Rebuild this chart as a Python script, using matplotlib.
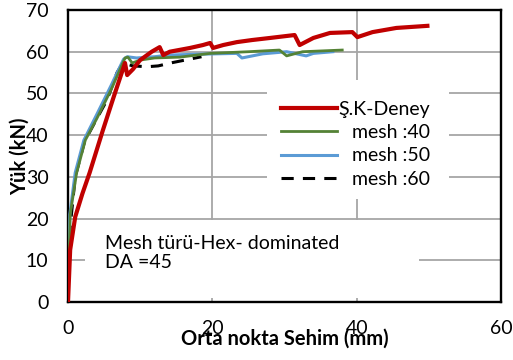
import matplotlib
matplotlib.use("Agg")
import matplotlib.pyplot as plt
from matplotlib.patches import Rectangle

plt.rcParams["font.family"] = ["Lato", "DejaVu Sans"]

# Ş.K-Deney (experiment)
red_x = [0, 0.3, 1.0, 2.0, 3.0, 4.8, 6.3, 7.9, 8.2, 9.0, 10.0, 11.6, 12.7, 13.2, 14.1,
         16.9, 18.7, 19.7, 20.1, 21.5, 23.4, 25.5, 28.0, 31.4, 32.1, 34.0, 36.3, 39.4,
         40.1, 42.2, 45.5, 49.8]
red_y = [0, 12.5, 20.4, 26.0, 31.0, 41.0, 49.0, 57.3, 54.4, 55.8, 58.0, 60.0, 61.1, 59.2, 60.0,
         60.9, 61.6, 62.1, 60.9, 61.6, 62.3, 62.8, 63.3, 64.0, 61.6, 63.3, 64.5, 64.7,
         63.5, 64.7, 65.7, 66.2]

# mesh :40
green_x = [0, 0.3, 1.2, 2.4, 4.0, 6.0, 7.9, 8.3, 8.9, 10.0, 12.0, 15.5, 19.7, 25.0,
           29.3, 30.3, 32.5, 38.0]
green_y = [0, 21.0, 31.0, 38.8, 44.0, 51.0, 58.5, 58.7, 57.3, 58.0, 58.5, 58.7, 59.6, 60.0,
           60.4, 59.0, 60.0, 60.4]

# mesh :50
blue_x = [0, 0.25, 1.0, 2.2, 4.0, 6.0, 7.7, 8.2, 9.5, 12.0, 14.0, 18.0, 23.4, 24.1,
          27.0, 30.3, 33.0, 34.0, 36.7]
blue_y = [0, 21.0, 31.0, 38.8, 45.0, 52.0, 58.2, 58.8, 58.5, 58.8, 59.2, 59.4, 59.6, 58.5,
          59.5, 60.0, 59.0, 59.6, 60.0]

# mesh :60
black_x = [0, 0.3, 1.0, 2.3, 4.0, 5.4, 6.8, 7.6, 9.0, 11.0, 12.5, 14.5, 17.1, 18.5]
black_y = [0, 18.0, 30.0, 38.5, 44.0, 48.4, 55.0, 57.3, 56.6, 56.4, 56.6, 57.4, 58.3, 58.8]

fig = plt.figure(figsize=(5.13, 3.6), dpi=100)
ax = fig.add_axes([68 / 513, 58 / 360, 433 / 513, 292 / 360])

ax.plot(red_x, red_y, color="#C00000", lw=3.0, label="Ş.K-Deney", zorder=6)
ax.plot(green_x, green_y, color="#548235", lw=2.0, label="mesh :40", zorder=5)
ax.plot(blue_x, blue_y, color="#5B9BD5", lw=2.2, label="mesh :50", zorder=4)
ax.plot(black_x, black_y, color="black", lw=2.2, dashes=(4, 3), label="mesh :60", zorder=3)

ax.set_xlim(0, 60)
ax.set_ylim(0, 70)
ax.set_xticks([0, 20, 40, 60])
ax.set_yticks(range(0, 71, 10))
ax.set_axisbelow(True)
ax.grid(True, color="#A6A6A6", lw=1.3)
ax.tick_params(length=0, labelsize=14)
ax.tick_params(axis="y", pad=14)
ax.tick_params(axis="x", pad=13)
for sp in ax.spines.values():
    sp.set_linewidth(1.7)
    sp.set_color("black")

ax.set_ylabel("Yük (kN)", fontsize=14.5, fontweight="bold", labelpad=-3)
ax.set_xlabel("Orta nokta Sehim (mm)", fontsize=14.5, fontweight="bold", labelpad=-6)

# white boxes hiding the grid behind the legend and the note
ax.add_patch(Rectangle((0.039, 0.014), 0.772, 0.266, transform=ax.transAxes,
                       facecolor="white", edgecolor="none", zorder=1.5))
ax.add_patch(Rectangle((0.46, 0.353), 0.42, 0.407, transform=ax.transAxes,
                       facecolor="white", edgecolor="none", zorder=1.5))
ax.text(37 / 433, 0.168, "Mesh türü-Hex- dominated\nDA =45",
        transform=ax.transAxes, fontsize=14, va="center", ha="left",
        linespacing=1.1, zorder=2)

leg = ax.legend(loc="center", bbox_to_anchor=(0.665, 0.54), fontsize=14,
                frameon=False, handlelength=2.85, handletextpad=0.1,
                labelspacing=0.32, borderpad=0.2)
leg.set_zorder(10)

# right-align the legend labels like the original
fig.canvas.draw()
renderer = fig.canvas.get_renderer()
widths = [t.get_window_extent(renderer).width for t in leg.get_texts()]
for t, w in zip(leg.get_texts(), widths):
    t.set_position((max(widths) - w, 0))

fig.savefig("out.png", dpi=100)
